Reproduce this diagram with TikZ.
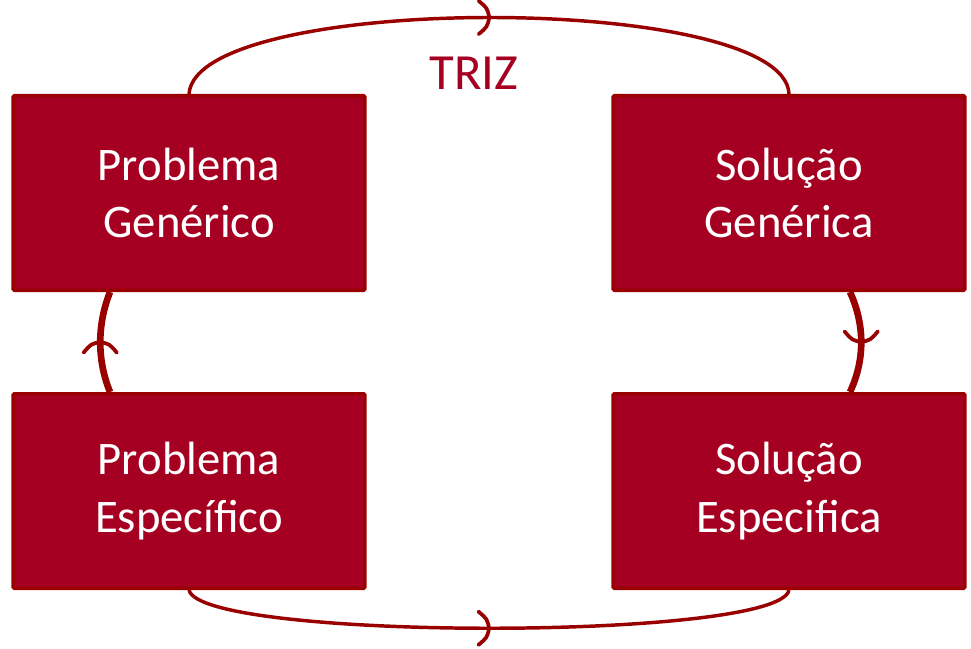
\documentclass[tikz,border=0pt]{standalone}
\usepackage{fontspec}
\setmainfont{Carlito}
\usepackage{tikz}
\usetikzlibrary{calc}
\usetikzlibrary{decorations.markings}

\definecolor{trizred}{HTML}{A50021}
\definecolor{trizdark}{HTML}{990000}

\begin{document}
\begin{tikzpicture}[x=0.75pt,y=-0.75pt]
    \newcommand{\chevron}[0]{
      \draw[line width=2.8pt,line cap=round,draw=trizdark]
        (-8pt,-12.5pt) .. controls (-1.5pt,-7pt) .. (0pt,0pt)
        .. controls (-1.5pt,7pt) .. (-8pt,12.5pt);
    }
    \tikzstyle{stage} = [
      draw=trizdark,
      fill=trizred,
      line width=2.5pt,
      rounded corners=1pt,
      minimum width=264pt,
      minimum height=146pt,
      text=white,
      align=center,
      font=\fontsize{35}{43}\selectfont,
    ]
    \tikzstyle{flow} = [
      draw=trizdark,
      line width=2.6pt,
      postaction={decorate},
      decoration={markings, mark=at position 0.5 with {\chevron}},
    ]
    \tikzstyle{link} = [
      flow,
      line width=5pt,
    ]
    \tikzstyle{label} = [
      text=trizred,
      font=\fontsize{38}{44}\selectfont,
    ]

    \useasboundingbox (0,0) rectangle (971,649);

    \node[stage] (pg) at (189,193) {Problema\\Genérico};
    \node[stage] (sg) at (789,193) {Solução\\Genérica};
    \node[stage] (pe) at (189,491) {Problema\\Específico};
    \node[stage] (se) at (789,491) {Solução\\Especifica};

    \node[label] (triz) at (474,73) {TRIZ};

    % abstraction loop
    \draw[flow] (pg.north) .. controls (196,-8) and (785,-8) .. (sg.north);
    \draw[flow] (pe.south) .. controls (200,641) and (780,641) .. (se.south);

    % vertical links
    \draw[link] ($(pe.north)+(-79,0)$) .. controls (97,360) and (97,325) .. ($(pg.south)+(-79,0)$);
    \draw[link] ($(sg.south)+(61,0)$) .. controls (865,325) and (865,360) .. ($(se.north)+(61,0)$);
\end{tikzpicture}
\end{document}
